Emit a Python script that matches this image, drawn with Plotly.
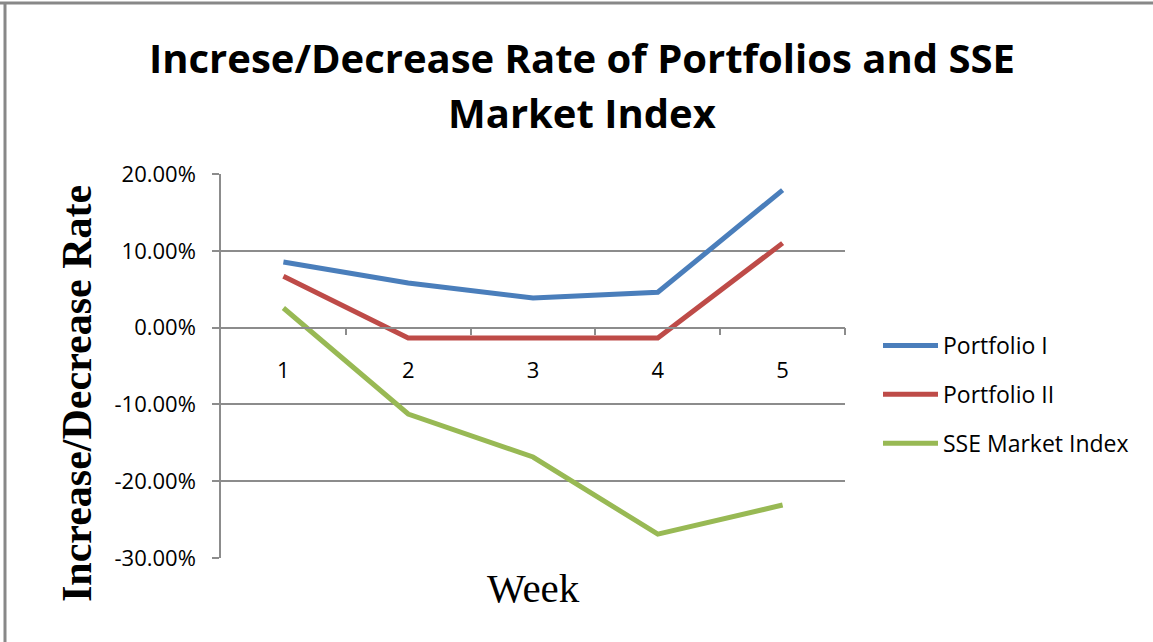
import plotly.graph_objects as go

weeks = [1, 2, 3, 4, 5]
week_labels = ["1", "2", "3", "4", "5"]
portfolio_1 = [0.0855, 0.058, 0.0385, 0.046, 0.179]
portfolio_2 = [0.067, -0.0135, -0.0135, -0.0135, 0.110]
sse_index = [0.0255, -0.1125, -0.1685, -0.269, -0.231]
series_names = ["Portfolio I", "Portfolio II", "SSE Market Index"]
series_colors = ["#4A7EBB", "#BE4B48", "#98B954"]
y_ticks = [0.2, 0.1, 0.0, -0.1, -0.2, -0.3]
y_tick_labels = ["20.00%", "10.00%", "0.00%", "-10.00%", "-20.00%", "-30.00%"]

W, H = 1153, 642
L, R, T, B = 221, 845, 174, 558
pw, ph = R - L, B - T


def px(x):
    return (x - L) / pw


def py(y):
    return (B - y) / ph


fig = go.Figure()
for i, (name, vals) in enumerate(zip(series_names, [portfolio_1, portfolio_2, sse_index])):
    fig.add_trace(go.Scatter(
        x=weeks, y=vals, mode="lines", name=name, legendgroup=name,
        line=dict(color=series_colors[i], width=5),
    ))

grid = "#8C8C8C"
fig.update_layout(
    width=W, height=H,
    margin=dict(l=L, r=W - R, t=T, b=H - B, pad=0),
    paper_bgcolor="white", plot_bgcolor="white",
    showlegend=True,
    legend=dict(
        x=px(878), y=py(324), xanchor="left", yanchor="top",
        font=dict(family="Open Sans", size=23, color="black"),
        tracegroupgap=16, bgcolor="rgba(0,0,0,0)", itemwidth=55,
    ),
    xaxis=dict(
        range=[0.5, 5.5], tickmode="array", tickvals=weeks, ticktext=week_labels,
        showgrid=False, zeroline=False,
        showline=True, linecolor=grid, linewidth=1.5,
        anchor="free", position=py(327.6), ticks="",
        ticklabelstandoff=23,
        tickfont=dict(family="Open Sans", size=22, color="black"),
        minor=dict(tickmode="array", tickvals=[1.5, 2.5, 3.5, 4.5, 5.5],
                   ticks="outside", ticklen=7, tickwidth=1.5, tickcolor=grid, showgrid=False),
    ),
    yaxis=dict(
        range=[-0.3, 0.2], tickmode="array", tickvals=y_ticks, ticktext=y_tick_labels,
        showgrid=True, gridcolor=grid, gridwidth=1.5,
        zeroline=False, showline=True, linecolor=grid, linewidth=1.5,
        ticks="outside", ticklen=7, tickwidth=1.5, tickcolor=grid,
        ticklabelstandoff=12,
        tickfont=dict(family="Open Sans", size=22, color="black"),
    ),
)

anns = [
    dict(text="<b>Increse/Decrease Rate of Portfolios and SSE</b>", x=px(582), y=py(57),
         font=dict(family="Open Sans", size=40, color="black")),
    dict(text="<b>Market Index</b>", x=px(582), y=py(113),
         font=dict(family="Open Sans", size=40, color="black")),
    dict(text="<b>Increase/Decrease Rate</b>", x=px(77), y=py(394), textangle=-90,
         font=dict(family="Liberation Serif", size=42, color="black")),
    dict(text="Week", x=px(533), y=py(588),
         font=dict(family="Liberation Serif", size=41, color="black")),
]
for a in anns:
    fig.add_annotation(xref="paper", yref="paper", showarrow=False,
                       xanchor="center", yanchor="middle", **a)

# outer chart frame
fig.add_shape(type="line", xref="paper", yref="paper", x0=px(0), x1=px(W), y0=py(3), y1=py(3),
              line=dict(color="#888888", width=3))
fig.add_shape(type="line", xref="paper", yref="paper", x0=px(5), x1=px(5), y0=py(2), y1=py(H),
              line=dict(color="#888888", width=3))

fig.write_html("out.html", config={"displayModeBar": False},
               post_script="document.body.style.margin='0';document.body.style.overflow='hidden';")
